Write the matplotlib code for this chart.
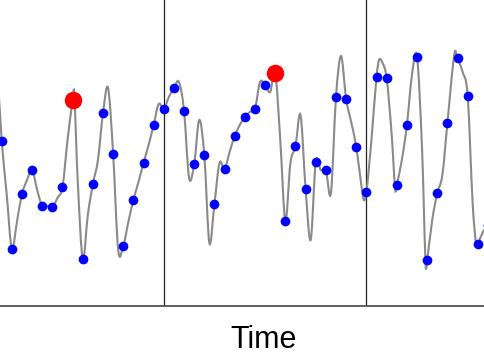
#!/usr/bin/env python3
"""
Sampled signal plot: smooth gray trace, blue samples, red highlighted samples
"""

import numpy as np
import matplotlib.pyplot as plt
from matplotlib.path import Path
from matplotlib.patches import PathPatch

# sample values at integer time steps 0..48
sample_vals = [1.65, 0.57, 1.12, 1.36, 1.00, 0.99, 1.19, 2.06, 0.47, 1.22,
               1.93, 1.52, 0.60, 1.06, 1.43, 1.81, 1.97, 2.18, 1.95, 1.42,
               1.51, 1.02, 1.37, 1.70, 1.89, 1.97, 2.21, 2.33, 0.85, 1.60,
               1.17, 1.44, 1.36, 2.09, 2.07, 1.59, 1.14, 2.29, 2.28, 1.21,
               1.81, 2.49, 0.46, 1.13, 1.83, 2.48, 2.10, 0.62, 0.81]
highlight_idx = [7, 27]          # samples drawn in red
boundaries = [16, 36]            # vertical separators

# extra knots of the underlying continuous trace (between the samples)
trace_t = [-0.6, -0.25, 0.5, 1.5, 2.5, 3.5, 4.5, 5.5, 6.5, 7.15, 7.5, 8.5,
           9.5, 10.5, 11.5, 12.5, 13.5, 14.5, 15.5, 16.5, 17.5, 18.5, 19.5,
           20.5, 21.5, 22.5, 23.5, 24.5, 25.5, 26.5, 27.5, 28.5, 29.5, 30.5,
           31.5, 32.5, 33.5, 34.5, 35.5, 35.75, 36.5, 37.25, 37.6, 38.5,
           38.85, 39.5, 40.5, 41.5, 41.85, 42.5, 43.5, 44.7, 45.5, 46.5,
           46.85, 47.5]
trace_v = [2.41, 2.06, 1.11, 0.84, 1.26, 1.16, 1.00, 1.08, 1.66, 2.14, 1.26,
           0.91, 1.46, 2.18, 0.56, 0.84, 1.24, 1.61, 2.02, 2.09, 2.24, 1.28,
           1.86, 0.63, 1.43, 1.54, 1.81, 1.94, 2.24, 2.14, 1.66, 1.43, 1.91,
           0.66, 1.36, 1.13, 2.50, 1.84, 1.21, 1.06, 1.66, 2.46, 2.43, 1.71,
           1.16, 1.46, 2.31, 1.56, 0.41, 0.86, 1.31, 2.53, 2.34, 1.01, 0.60,
           0.74]


def smooth_path(t, v):
    """Bezier path through knots with finite-difference tangents"""
    n = len(t)
    m = np.zeros(n)
    for k in range(n):
        a = max(k - 1, 0)
        b = min(k + 1, n - 1)
        m[k] = (v[b] - v[a]) / (t[b] - t[a])
    verts = [(t[0], v[0])]
    codes = [Path.MOVETO]
    for k in range(n - 1):
        dt = t[k + 1] - t[k]
        verts += [(t[k] + dt / 3, v[k] + m[k] * dt / 3),
                  (t[k + 1] - dt / 3, v[k + 1] - m[k + 1] * dt / 3),
                  (t[k + 1], v[k + 1])]
        codes += [Path.CURVE4] * 3
    return Path(verts, codes)


def main():
    sample_t = np.arange(len(sample_vals))
    vals = np.array(sample_vals)

    # merge samples and extra knots into one sorted trace
    all_t = np.concatenate([sample_t, trace_t])
    all_v = np.concatenate([vals, trace_v])
    order = np.argsort(all_t)
    all_t = all_t[order]
    all_v = all_v[order]

    fig = plt.figure(figsize=(4.85, 3.6), dpi=100)
    ax = fig.add_axes([0, 0.15, 1, 0.85])

    ax.add_patch(PathPatch(smooth_path(all_t, all_v), facecolor='none',
                           edgecolor='#8a8a8a', linewidth=1.5, zorder=2))

    for b in boundaries:
        ax.axvline(b, color='#222222', linewidth=0.9, zorder=1)

    is_red = np.isin(sample_t, highlight_idx)
    ax.plot(sample_t[~is_red], vals[~is_red], 'o', color='#0000ff',
            markersize=7, markeredgewidth=0, zorder=3)
    ax.plot(sample_t[is_red], vals[is_red], 'o', color='#ff0000',
            markersize=12.6, markeredgewidth=0, zorder=3)

    ax.set_xlim(-0.168, 47.71)
    ax.set_ylim(0, 3.06)
    for side in ['left', 'top', 'right']:
        ax.spines[side].set_visible(False)
    ax.spines['bottom'].set_color('#444444')
    ax.spines['bottom'].set_linewidth(1.2)
    ax.set_xticks([])
    ax.set_yticks([])

    fig.text(264 / 485, 0.0325, 'Time', ha='center', va='baseline',
             fontsize=22, family='Liberation Sans')

    fig.savefig('out.png', dpi=100)


if __name__ == '__main__':
    main()
